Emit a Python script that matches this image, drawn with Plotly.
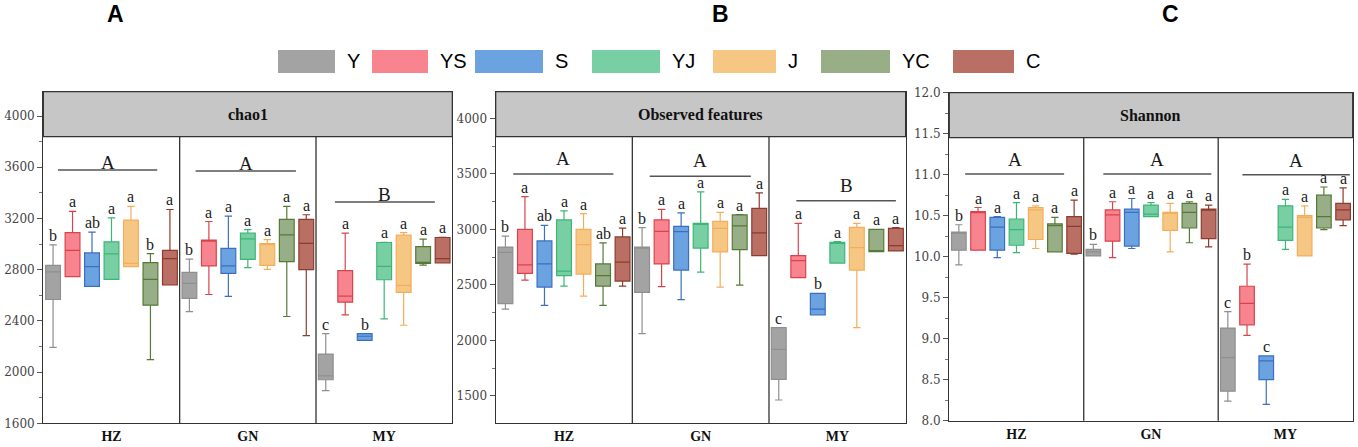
import plotly.graph_objects as go

# treatments and sites
treatments = ['Y', 'YS', 'S', 'YJ', 'J', 'YC', 'C']
sites = ['HZ', 'GN', 'MY']
panels = ['chao1', 'Observed features', 'Shannon']
panel_tags = ['A', 'B', 'C']

fill_colors = ['#a3a3a3', '#f7848f', '#6aa3e0', '#78cfa3', '#f6c783', '#97ae86', '#b96f63']
line_colors = ['#8f8f8f', '#d9444a', '#3b6fc1', '#3db577', '#f4ad5c', '#557a36', '#8d3b2d']

# box stats: [HZ, GN, MY] per treatment
# chao1
chao1_q1 = {'Y': [2567, 2575, 1940], 'YS': [2745, 2829, 2546], 'S': [2669, 2771, 2248],
            'YJ': [2724, 2881, 2721], 'J': [2823, 2834, 2622], 'YC': [2523, 2863, 2849],
            'C': [2680, 2800, 2852]}
chao1_med = {'Y': [2782, 2693, 1971], 'YS': [2951, 3025, 2593], 'S': [2823, 2829, 2280],
             'YJ': [2923, 3040, 2826], 'J': [2849, 2998, 2677], 'YC': [2724, 3072, 2855],
             'C': [2886, 3006, 2886]}
chao1_q3 = {'Y': [2834, 2779, 2141], 'YS': [3090, 3030, 2792], 'S': [2931, 2967, 2301],
            'YJ': [3017, 3085, 3012], 'J': [3187, 3004, 3069], 'YC': [2855, 3192, 2980],
            'C': [2951, 3192, 3051]}
chao1_lo = {'Y': [2193, 2473, 1856], 'YS': [2745, 2606, 2447], 'S': [2669, 2591, 2248],
            'YJ': [2724, 2816, 2416], 'J': [2823, 2802, 2366], 'YC': [2097, 2434, 2836],
            'C': [2680, 2285, 2852]}
chao1_hi = {'Y': [2993, 2883, 2301], 'YS': [3255, 3176, 3085], 'S': [3093, 3218, 2301],
            'YJ': [3205, 3113, 3014], 'J': [3294, 3035, 3090], 'YC': [2925, 3294, 3038],
            'C': [3270, 3229, 3053]}
chao1_letters = {'Y': ['b', 'b', 'c'], 'YS': ['a', 'a', 'a'], 'S': ['ab', 'a', 'b'],
                 'YJ': ['a', 'a', 'a'], 'J': ['a', 'a', 'a'], 'YC': ['b', 'a', 'a'],
                 'C': ['a', 'a', 'a']}

# observed features
obs_q1 = {'Y': [2331, 2433, 1650], 'YS': [2604, 2689, 2565], 'S': [2481, 2634, 2229],
          'YJ': [2583, 2832, 2697], 'J': [2598, 2797, 2634], 'YC': [2490, 2818, 2800],
          'C': [2535, 2764, 2806]}
obs_med = {'Y': [2793, 2840, 1920], 'YS': [2680, 2983, 2718], 'S': [2689, 2980, 2283],
           'YJ': [2625, 3049, 2880], 'J': [2863, 3010, 2836], 'YC': [2583, 3031, 2810],
           'C': [2706, 2968, 2854]}
obs_q3 = {'Y': [2841, 2841, 2115], 'YS': [3000, 3085, 2763], 'S': [2896, 3028, 2424],
          'YJ': [3085, 3055, 2884], 'J': [3000, 3073, 3019], 'YC': [2689, 3130, 3000],
          'C': [2932, 3190, 3010]}
obs_lo = {'Y': [2283, 2061, 1464], 'YS': [2544, 2484, 2565], 'S': [2316, 2367, 2229],
          'YJ': [2490, 2616, 2697], 'J': [2400, 2481, 2115], 'YC': [2316, 2499, 2800],
          'C': [2490, 2764, 2806]}
obs_hi = {'Y': [2940, 3016, 2115], 'YS': [3295, 3181, 3055], 'S': [3036, 3148, 2424],
          'YJ': [3166, 3337, 2890], 'J': [3142, 3154, 3055], 'YC': [2878, 3133, 3000],
          'C': [3012, 3328, 3016]}
obs_letters = {'Y': ['b', 'b', 'c'], 'YS': ['a', 'a', 'a'], 'S': ['ab', 'a', 'b'],
               'YJ': ['a', 'a', 'a'], 'J': ['a', 'a', 'a'], 'YC': ['ab', 'a', 'a'],
               'C': ['a', 'a', 'a']}

# shannon
sha_q1 = {'Y': [10.08, 10.01, 8.36], 'YS': [10.08, 10.19, 9.17], 'S': [10.08, 10.13, 8.50],
          'YJ': [10.14, 10.49, 10.20], 'J': [10.21, 10.32, 10.01], 'YC': [10.06, 10.35, 10.35],
          'C': [10.04, 10.22, 10.45]}
sha_med = {'Y': [10.29, 10.06, 8.77], 'YS': [10.54, 10.51, 9.43], 'S': [10.36, 10.54, 8.73],
           'YJ': [10.33, 10.52, 10.36], 'J': [10.57, 10.53, 10.48], 'YC': [10.38, 10.54, 10.49],
           'C': [10.37, 10.57, 10.57]}
sha_q3 = {'Y': [10.30, 10.09, 9.13], 'YS': [10.55, 10.57, 9.64], 'S': [10.48, 10.58, 8.79],
          'YJ': [10.46, 10.63, 10.62], 'J': [10.60, 10.54, 10.50], 'YC': [10.40, 10.65, 10.75],
          'C': [10.49, 10.58, 10.65]}
sha_lo = {'Y': [9.90, 10.01, 8.24], 'YS': [10.08, 9.99, 9.04], 'S': [9.99, 10.10, 8.20],
          'YJ': [10.05, 10.49, 10.09], 'J': [10.10, 10.06, 10.01], 'YC': [10.06, 10.17, 10.33],
          'C': [10.03, 10.12, 10.38]}
sha_hi = {'Y': [10.39, 10.15, 9.33], 'YS': [10.60, 10.67, 9.91], 'S': [10.49, 10.71, 8.79],
          'YJ': [10.66, 10.66, 10.70], 'J': [10.62, 10.65, 10.62], 'YC': [10.48, 10.67, 10.85],
          'C': [10.69, 10.63, 10.84]}
sha_letters = {'Y': ['b', 'b', 'c'], 'YS': ['a', 'a', 'b'], 'S': ['a', 'a', 'c'],
               'YJ': ['a', 'a', 'a'], 'J': ['a', 'a', 'a'], 'YC': ['a', 'a', 'a'],
               'C': ['a', 'a', 'a']}

# site level letters, line heights and spans
site_letters = [['A', 'A', 'B'], ['A', 'A', 'B'], ['A', 'A', 'A']]
site_line_y = [[3579, 3571, 3328], [3499, 3478, 3259], [11.01, 11.01, 11.0]]
site_line_span = [[(0.75, 5.85), (0.82, 5.97), (0.97, 6.1)],
                  [(0.9, 6.03), (0.89, 6.07), (1.4, 6.5)],
                  [(0.83, 5.98), (1.02, 6.64), (1.26, 6.85)]]

stats = [
    (chao1_q1, chao1_med, chao1_q3, chao1_lo, chao1_hi, chao1_letters),
    (obs_q1, obs_med, obs_q3, obs_lo, obs_hi, obs_letters),
    (sha_q1, sha_med, sha_q3, sha_lo, sha_hi, sha_letters),
]

W, H = 1358, 447
y_ranges = [[1600, 4190], [1254, 4240], [8.0, 12.0]]
y_dticks = [400, 500, 0.5]
x_domains = [[0.0319, 0.3331], [0.365, 0.6669], [0.699, 0.9961]]
y_domains = [[0.053, 0.7949], [0.053, 0.7949], [0.0588, 0.7926]]
header_frac = [0.8643, 0.8643, 0.8628]
site_letter_shift = [-5, 3, 2]

serif = 'Liberation Serif, Times New Roman, serif'
sans = 'Liberation Sans, Arial, sans-serif'

fig = go.Figure()
annotations = []
shapes = []

n = len(treatments)
for p in range(3):
    xa = 'x' if p == 0 else 'x%d' % (p + 1)
    ya = 'y' if p == 0 else 'y%d' % (p + 1)
    q1, med, q3, lo, hi, letters = stats[p]
    for i, t in enumerate(treatments):
        xs = [g * n + i + 0.5 for g in range(len(sites))]
        fig.add_trace(go.Box(
            x=xs, q1=q1[t], median=med[t], q3=q3[t],
            lowerfence=lo[t], upperfence=hi[t],
            width=0.76, whiskerwidth=0.5,
            fillcolor=fill_colors[i],
            line=dict(color=line_colors[i], width=1.2),
            name=t, showlegend=False, hoverinfo='skip',
            xaxis=xa, yaxis=ya,
        ))
        for g in range(len(sites)):
            annotations.append(dict(
                x=xs[g], y=hi[t][g], xref=xa, yref=ya, text=letters[t][g],
                showarrow=False, yanchor='bottom', yshift=-1,
                font=dict(family=serif, size=16, color='#1a1a1a'),
            ))

    # site letters with lines
    for g in range(len(sites)):
        x0, x1 = site_line_span[p][g]
        shapes.append(dict(type='line', xref=xa, yref=ya,
                           x0=g * n + x0, x1=g * n + x1,
                           y0=site_line_y[p][g], y1=site_line_y[p][g],
                           line=dict(color='#555', width=1.5)))
        annotations.append(dict(
            x=g * n + (x0 + x1) / 2, y=site_line_y[p][g], xref=xa, yref=ya,
            text=site_letters[p][g], showarrow=False, yanchor='bottom',
            yshift=site_letter_shift[p],
            font=dict(family=serif, size=19, color='#1a1a1a'),
        ))

    # separators between sites
    for g in range(1, len(sites)):
        shapes.append(dict(type='line', xref=xa, yref=ya + ' domain',
                           x0=g * n, x1=g * n, y0=0, y1=header_frac[p],
                           line=dict(color='#333', width=1.3)))

    # grey header strip
    shapes.append(dict(type='rect', xref=xa + ' domain', yref=ya + ' domain',
                       x0=0, x1=1, y0=header_frac[p], y1=1,
                       fillcolor='#c6c6c6', line=dict(color='#333', width=1.3)))
    annotations.append(dict(
        x=0.5, y=(header_frac[p] + 1) / 2, xref=xa + ' domain', yref=ya + ' domain',
        text='<b>%s</b>' % panels[p], showarrow=False, yanchor='middle',
        font=dict(family=serif, size=16, color='#111'),
    ))

    # panel tag
    annotations.append(dict(
        x=[105, 720, 1181][p] / W, y=1 - 14 / H, xref='paper', yref='paper',
        text='<b>%s</b>' % panel_tags[p], showarrow=False, yanchor='middle',
        font=dict(family=sans, size=23, color='#000'),
    ))

    axis_x = dict(domain=x_domains[p], range=[0, n * len(sites)],
                  tickvals=[g * n + n / 2 for g in range(len(sites))],
                  ticktext=['<b>%s</b>' % s for s in sites],
                  ticks='', showgrid=False, zeroline=False, automargin=False,
                  showline=True, mirror=True, linecolor='#333', linewidth=1.3,
                  tickfont=dict(family=serif, size=14, color='#111'),
                  anchor=ya)
    axis_y = dict(domain=y_domains[p], range=y_ranges[p], dtick=y_dticks[p],
                  tick0=y_ranges[p][0] if p == 0 else 0,
                  ticks='outside', ticklen=5, tickcolor='#555', automargin=False,
                  showgrid=False, zeroline=False,
                  showline=True, mirror=True, linecolor='#333', linewidth=1.3,
                  tickfont=dict(family='DejaVu Serif, serif', size=12, color='#444'),
                  tickformat='.1f' if p == 2 else 'd',
                  minor=dict(dtick=y_dticks[p] / 2, ticks='outside', ticklen=3,
                             tickcolor='#777'),
                  anchor=xa)
    key = '' if p == 0 else str(p + 1)
    fig.update_layout(**{'xaxis' + key: axis_x, 'yaxis' + key: axis_y})

# custom legend with large swatches
legend_left = [278, 372, 475, 592, 713, 821, 953]
legend_right = [335, 428, 543, 660, 776, 890, 1014]
for i, t in enumerate(treatments):
    shapes.append(dict(type='rect', xref='paper', yref='paper',
                       x0=legend_left[i] / W, x1=legend_right[i] / W,
                       y0=1 - 73 / H, y1=1 - 50 / H,
                       fillcolor=fill_colors[i], line=dict(width=0)))
    annotations.append(dict(
        x=(legend_right[i] + 10) / W, y=1 - 61 / H, xref='paper', yref='paper',
        text=t, showarrow=False, xanchor='left', yanchor='middle',
        font=dict(family=sans, size=20, color='#000'),
    ))

fig.update_layout(
    width=W, height=H,
    margin=dict(l=0, r=0, t=0, b=0, autoexpand=False),
    plot_bgcolor='white', paper_bgcolor='white',
    shapes=shapes, annotations=annotations,
    showlegend=False,
)

fig.write_html("out.html", config={'displayModeBar': False},
               post_script="document.body.style.margin='0px';")
